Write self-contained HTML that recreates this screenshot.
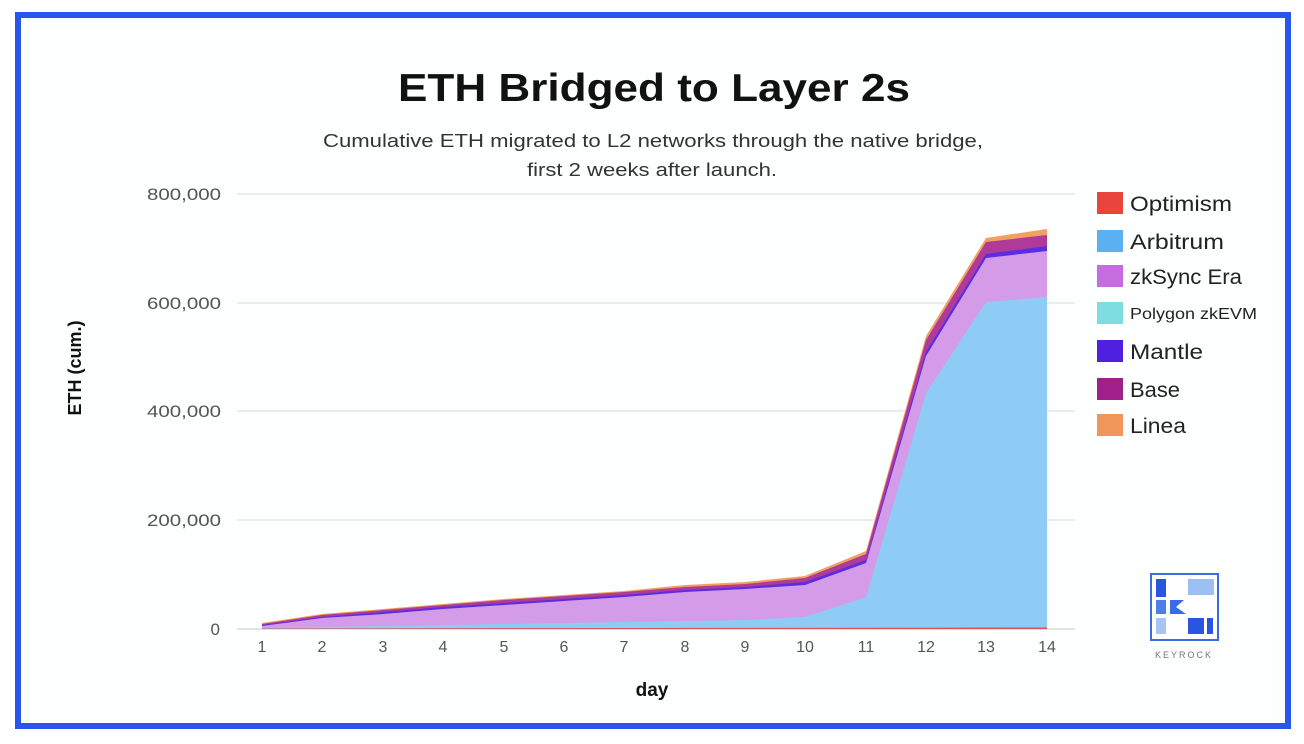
<!DOCTYPE html>
<html><head><meta charset="utf-8"><style>
html,body{margin:0;padding:0;background:#fff;}
body{width:1304px;height:744px;position:relative;overflow:hidden;font-family:"Liberation Sans",sans-serif;}
</style></head><body>
<svg width="1304" height="744" viewBox="0 0 1304 744" xmlns="http://www.w3.org/2000/svg" style="position:absolute;left:0;top:0">
<rect x="0" y="0" width="1304" height="744" fill="#fff"/>
<rect x="18" y="15" width="1270" height="711" fill="#fdfefe" stroke="#2a55ec" stroke-width="6"/>
<text x="398" y="101" textLength="512" lengthAdjust="spacingAndGlyphs" font-size="39" font-weight="bold" fill="#111">ETH Bridged to Layer 2s</text>
<text x="323" y="147" textLength="660" lengthAdjust="spacingAndGlyphs" font-size="18" fill="#333">Cumulative ETH migrated to L2 networks through the native bridge,</text>
<text x="527" y="176" textLength="250" lengthAdjust="spacingAndGlyphs" font-size="18" fill="#333">first 2 weeks after launch.</text>
<g stroke="#e6e6e6" stroke-width="1.5">
<line x1="237" y1="194" x2="1075" y2="194"/>
<line x1="237" y1="303" x2="1075" y2="303"/>
<line x1="237" y1="411" x2="1075" y2="411"/>
<line x1="237" y1="520" x2="1075" y2="520"/>
<line x1="237" y1="629" x2="1075" y2="629" stroke="#d8d8d8"/>
</g>
<g font-size="17" fill="#555" text-anchor="end">
<text x="221" y="200" textLength="74" lengthAdjust="spacingAndGlyphs">800,000</text>
<text x="221" y="309" textLength="74" lengthAdjust="spacingAndGlyphs">600,000</text>
<text x="221" y="417" textLength="74" lengthAdjust="spacingAndGlyphs">400,000</text>
<text x="221" y="526" textLength="74" lengthAdjust="spacingAndGlyphs">200,000</text>
<text x="220" y="635">0</text>
</g>
<text transform="translate(81,368) rotate(-90)" text-anchor="middle" font-size="18" font-weight="bold" fill="#111">ETH (cum.)</text>
<g font-size="16" fill="#555" text-anchor="middle">
<text x="262" y="652">1</text><text x="322" y="652">2</text><text x="383" y="652">3</text><text x="443" y="652">4</text><text x="504" y="652">5</text><text x="564" y="652">6</text><text x="624" y="652">7</text><text x="685" y="652">8</text><text x="745" y="652">9</text><text x="805" y="652">10</text><text x="866" y="652">11</text><text x="926" y="652">12</text><text x="986" y="652">13</text><text x="1047" y="652">14</text>
</g>
<text x="652" y="696" text-anchor="middle" font-size="19" font-weight="bold" fill="#111">day</text>
<polygon fill="#f0a060" points="262,623 322,614 383,609 443,604 504,599 564,595 624,591 685,585 745,582 805,576 866,551 926,336 986,238 1047,229 1047,629 262,629"/>
<polygon fill="#b03a9a" points="262,624 322,615 383,610 443,605 504,600 564,596 624,592 685,587 745,584 805,578 866,554 926,340 986,242 1047,235 1047,629 262,629"/>
<polygon fill="#5a2de0" points="262,625 322,617 383,612 443,607 504,603 564,599 624,595 685,590 745,587 805,582 866,560 926,352 986,254 1047,246 1047,629 262,629"/>
<polygon fill="#d39be8" points="262,626 322,618 383,614 443,609 504,605 564,601 624,597 685,592 745,589 805,585 866,563 926,356 986,258 1047,251 1047,629 262,629"/>
<polygon fill="#8ecbf5" points="262,628 322,627 383,626 443,625 504,624 564,623 624,622 685,621 745,620 805,617 866,597 926,393 986,302 1047,297 1047,629 262,629"/>
<polygon fill="#e05050" points="262,628.5 1047,627.5 1047,629 262,629"/>
<g font-size="21" fill="#222">
<rect x="1097" y="192" width="26" height="22" fill="#e8453c"/><text x="1130" y="211" textLength="102" lengthAdjust="spacingAndGlyphs">Optimism</text>
<rect x="1097" y="230" width="26" height="22" fill="#5ab0f0"/><text x="1130" y="249" textLength="94" lengthAdjust="spacingAndGlyphs">Arbitrum</text>
<rect x="1097" y="265" width="26" height="22" fill="#c56de0"/><text x="1130" y="284" textLength="112" lengthAdjust="spacingAndGlyphs">zkSync Era</text>
<rect x="1097" y="302" width="26" height="22" fill="#7ddde0"/><text x="1130" y="319" font-size="16" textLength="127" lengthAdjust="spacingAndGlyphs">Polygon zkEVM</text>
<rect x="1097" y="340" width="26" height="22" fill="#5020e0"/><text x="1130" y="359" textLength="73" lengthAdjust="spacingAndGlyphs">Mantle</text>
<rect x="1097" y="378" width="26" height="22" fill="#a0208a"/><text x="1130" y="397" textLength="50" lengthAdjust="spacingAndGlyphs">Base</text>
<rect x="1097" y="414" width="26" height="22" fill="#f0965a"/><text x="1130" y="433" textLength="56" lengthAdjust="spacingAndGlyphs">Linea</text>
</g>
<rect x="1151" y="574" width="67" height="66" fill="#fff" stroke="#3a6be0" stroke-width="2"/>
<rect x="1156" y="579" width="10" height="18" fill="#2a55e0"/>
<rect x="1188" y="579" width="26" height="16" fill="#9cc0f4"/>
<rect x="1156" y="600" width="10" height="14" fill="#4a80e8"/>
<polygon points="1170,600 1184,600 1176,607 1186,614 1170,614" fill="#3a6be8"/>
<rect x="1156" y="618" width="10" height="16" fill="#a8c4f4"/>
<rect x="1188" y="618" width="16" height="16" fill="#2a55e0"/>
<rect x="1207" y="618" width="6" height="16" fill="#2a55e0"/>
<text x="1184" y="658" text-anchor="middle" font-size="9" letter-spacing="2" fill="#777">KEYROCK</text>
</svg>
</body></html>
